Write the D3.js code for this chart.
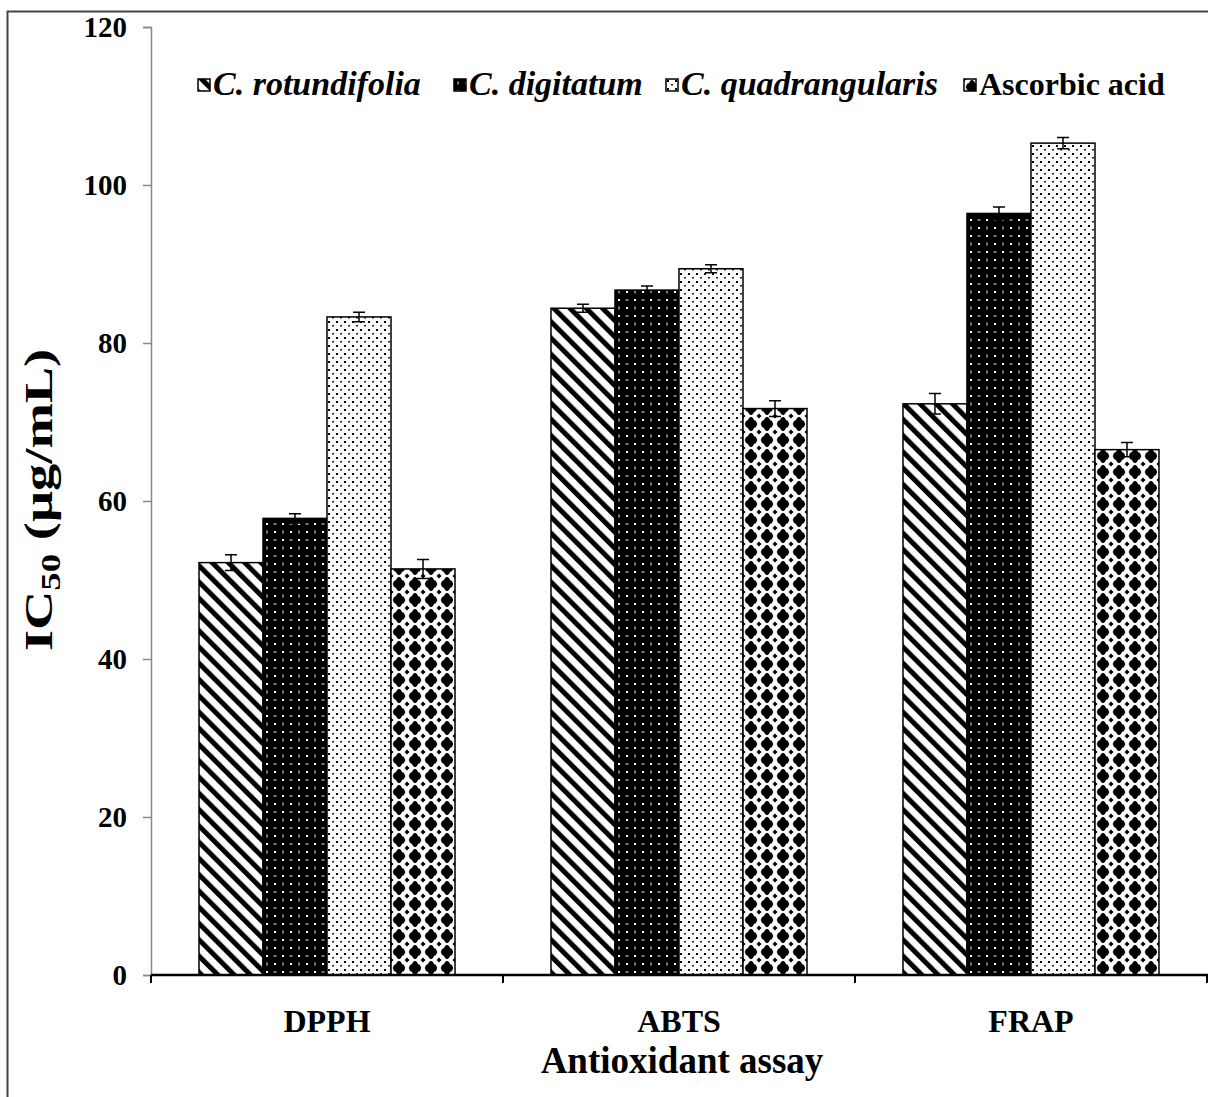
<!DOCTYPE html>
<html>
<head>
<meta charset="utf-8">
<script src="https://cdn.jsdelivr.net/npm/d3@7"></script>
<style>
  body { margin: 0; background: #fff; }
  svg text { font-family: 'Liberation Serif', 'Times New Roman', serif; font-weight: bold; }
</style>
</head>
<body>
<div id="chart"></div>
<script>
const assays = ['DPPH', 'ABTS', 'FRAP']
const species = ['C. rotundifolia', 'C. digitatum', 'C. quadrangularis', 'Ascorbic acid']
const rotundifolia = [52.2, 84.4, 72.3]
const digitatum = [57.8, 86.7, 96.4]
const quadrangularis = [83.3, 89.4, 105.3]
const ascorbic = [51.4, 71.7, 66.5]
const rotundifoliaErr = [1.0, 0.5, 1.3]
const digitatumErr = [0.6, 0.5, 0.8]
const quadrangularisErr = [0.6, 0.5, 0.7]
const ascorbicErr = [1.2, 1.0, 0.9]
const yTicks = [0, 20, 40, 60, 80, 100, 120]

const series = [
  { name: species[0], values: rotundifolia, err: rotundifoliaErr, pat: 'p-diag', italic: true },
  { name: species[1], values: digitatum, err: digitatumErr, pat: 'p-darkdots', italic: true },
  { name: species[2], values: quadrangularis, err: quadrangularisErr, pat: 'p-dots', italic: true },
  { name: species[3], values: ascorbic, err: ascorbicErr, pat: 'p-check', italic: false }
]

const width = 1208
const height = 1097
const margin = { top: 27, left: 151, right: 1, bottom: 122 }

const svg = d3.select('#chart').append('svg')
  .attr('width', width).attr('height', height)

// outer frame
svg.append('path')
  .attr('d', `M7.5,${height} V11.5 H${width}`)
  .attr('fill', 'none').attr('stroke', '#444').attr('stroke-width', 2)

// patterns
const defs = svg.append('defs')
const diag = defs.append('pattern').attr('id', 'p-diag')
  .attr('patternUnits', 'userSpaceOnUse').attr('width', 11.5).attr('height', 11.5)
  .attr('patternTransform', 'rotate(-45)')
diag.append('rect').attr('width', 11.5).attr('height', 11.5).attr('fill', '#fff')
diag.append('rect').attr('x', 0).attr('width', 5).attr('height', 11.5).attr('fill', '#000')

// black with a grid of small white marks
const dd = defs.append('pattern').attr('id', 'p-darkdots')
  .attr('patternUnits', 'userSpaceOnUse').attr('width', 16).attr('height', 16)
dd.append('rect').attr('width', 16).attr('height', 16).attr('fill', '#000')
dd.append('rect').attr('x', 11).attr('y', 3).attr('width', 2).attr('height', 2).attr('fill', '#fff')
dd.append('rect').attr('x', 3).attr('y', 11).attr('width', 2).attr('height', 2).attr('fill', '#fff')
dd.append('rect').attr('x', 3.5).attr('y', 2.5).attr('width', 1).attr('height', 3).attr('fill', '#eee')
dd.append('rect').attr('x', 10.5).attr('y', 11.5).attr('width', 3).attr('height', 1).attr('fill', '#eee')

const dots = defs.append('pattern').attr('id', 'p-dots')
  .attr('patternUnits', 'userSpaceOnUse').attr('width', 8).attr('height', 8)
dots.append('rect').attr('width', 8).attr('height', 8).attr('fill', '#fff')
dots.append('rect').attr('x', 1).attr('y', 1).attr('width', 2).attr('height', 2).attr('fill', '#000')
dots.append('rect').attr('x', 5).attr('y', 5).attr('width', 2).attr('height', 1.5).attr('fill', '#222')

const chk = defs.append('pattern').attr('id', 'p-check')
  .attr('patternUnits', 'userSpaceOnUse').attr('width', 16).attr('height', 16)
chk.append('rect').attr('width', 16).attr('height', 16).attr('fill', '#fff')
chk.append('path')
  .attr('d', 'M8,0.8 L10,2 L11,4 L13,5 L14.2,8 L13,11 L11,12 L10,14 L8,15.2 L6,14 L5,12 L3,11 L1.8,8 L3,5 L5,4 L6,2 Z')
  .attr('fill', '#000')
chk.append('path').attr('d', 'M0,0 H2.5 L0,2.5 Z M16,0 V2.5 L13.5,0 Z M0,16 V13.5 L2.5,16 Z M16,16 H13.5 L16,13.5 Z')
  .attr('fill', '#000')

const x = d3.scaleBand().domain(assays)
  .range([margin.left, width - margin.right]).paddingInner(0.2727).paddingOuter(0.1364)
const xs = d3.scaleBand().domain(species).range([0, x.bandwidth()])
const y = d3.scaleLinear().domain([0, 120]).range([height - margin.bottom, margin.top])

// y axis
const yAxis = svg.append('g').attr('transform', `translate(${margin.left},0)`)
  .call(d3.axisLeft(y).tickValues(yTicks).tickSize(8).tickPadding(16))
yAxis.selectAll('line, path').attr('stroke', '#888').attr('stroke-width', 1.5)
yAxis.selectAll('text').attr('fill', '#000').style('font-size', '29px')

// bars
const groups = svg.selectAll('.grp').data(assays).join('g')
  .attr('transform', d => `translate(${x(d)},0)`)
series.forEach(s => {
  groups.append('rect')
    .attr('x', xs(s.name))
    .attr('y', (d, i) => y(s.values[i]))
    .attr('width', xs.bandwidth())
    .attr('height', (d, i) => y(0) - y(s.values[i]))
    .attr('fill', `url(#${s.pat})`)
    .attr('stroke', '#000').attr('stroke-width', 1.5)
  const cx = xs(s.name) + xs.bandwidth() / 2
  groups.append('path')
    .attr('d', (d, i) => {
      const t = y(s.values[i] + s.err[i]), b = y(s.values[i] - s.err[i])
      return `M${cx},${t} V${b} M${cx - 6},${t} H${cx + 6} M${cx - 6},${b} H${cx + 6}`
    })
    .attr('stroke', '#000').attr('stroke-width', 1.5).attr('fill', 'none')
})

// x axis
const xAxis = svg.append('g').attr('transform', `translate(0,${y(0)})`)
xAxis.append('line').attr('x1', margin.left).attr('x2', width)
  .attr('stroke', '#000').attr('stroke-width', 2.5)
const boundaries = assays.map(a => x(a) - x.step() * x.paddingInner() / 2)
boundaries.push(x(assays[assays.length - 1]) + x.bandwidth() + x.step() * x.paddingInner() / 2)
xAxis.selectAll('.tk').data(boundaries).join('line')
  .attr('x1', d => Math.min(d, width - 1)).attr('x2', d => Math.min(d, width - 1))
  .attr('y1', 0).attr('y2', 8).attr('stroke', '#000').attr('stroke-width', 2)
xAxis.selectAll('.lbl').data(assays).join('text')
  .attr('x', d => x(d) + x.bandwidth() / 2).attr('y', 57)
  .attr('text-anchor', 'middle').attr('font-size', 32).text(d => d)

// axis titles
svg.append('text').attr('x', 682).attr('y', 1073).attr('text-anchor', 'middle')
  .attr('font-size', 37).text('Antioxidant assay')
const yt = svg.append('text')
  .attr('transform', `translate(52,500) rotate(-90) scale(1.36,1)`)
  .attr('text-anchor', 'middle').attr('font-size', 40)
yt.append('tspan').text('IC')
yt.append('tspan').attr('font-size', 27).attr('dy', 8).text('50')
yt.append('tspan').attr('dy', -8).text(' (µg/mL)')

// legend
const legendX = [198, 454, 666, 964]
const legend = svg.selectAll('.leg').data(series).join('g')
  .attr('transform', (d, i) => `translate(${legendX[i]},79)`)
legend.append('rect').attr('width', 12).attr('height', 12)
  .attr('fill', d => `url(#${d.pat})`).attr('stroke', '#000').attr('stroke-width', 1.5)
legend.append('text').attr('x', 15).attr('y', 16)
  .attr('font-size', d => d.italic ? 34 : 32)
  .attr('font-style', d => d.italic ? 'italic' : 'normal').text(d => d.name)
</script>
</body>
</html>
